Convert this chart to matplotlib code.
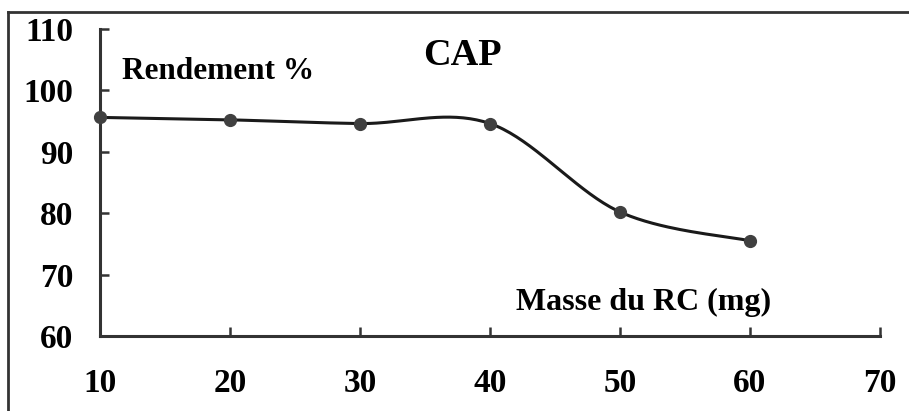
import matplotlib.pyplot as plt
import numpy as np
from matplotlib.lines import Line2D

plt.rcParams['font.family'] = ['Liberation Serif', 'DejaVu Serif']
plt.rcParams['font.weight'] = 'bold'

# Data
masse = [10, 20, 30, 40, 50, 60]
rendement = [95.6, 95.2, 94.6, 94.6, 80.2, 75.5]
x_ticks = [10, 20, 30, 40, 50, 60, 70]
y_ticks = [60, 70, 80, 90, 100, 110]


def smooth_curve(xs, ys, n=40):
    # Excel-like smoothing: Catmull-Rom through the points, as cubic Bezier pieces
    p = np.column_stack([xs, ys]).astype(float)
    p = np.vstack([p[0], p, p[-1]])
    out = []
    for i in range(1, len(p) - 2):
        p0, p1, p2, p3 = p[i - 1], p[i], p[i + 1], p[i + 2]
        c1 = p1 + (p2 - p0) / 6
        c2 = p2 - (p3 - p1) / 6
        t = np.linspace(0, 1, n)[:, None]
        seg = ((1 - t) ** 3) * p1 + 3 * ((1 - t) ** 2) * t * c1 \
            + 3 * (1 - t) * t ** 2 * c2 + t ** 3 * p2
        out.append(seg if i == 1 else seg[1:])
    out = np.vstack(out)
    return out[:, 0], out[:, 1]


fig = plt.figure(figsize=(9.09, 4.11), dpi=100)
ax = fig.add_axes([0.110, 0.1825, 0.858, 0.747])

sx, sy = smooth_curve(masse, rendement)
ax.plot(sx, sy, color='#1a1a1a', linewidth=2.2, zorder=3)
ax.plot(masse, rendement, linestyle='none', marker='o', markersize=8.5,
        color='#404040', zorder=4, clip_on=False)

ax.set_xlim(10, 70)
ax.set_ylim(60, 110)
ax.set_xticks(x_ticks)
ax.set_yticks(y_ticks)

for side in ['top', 'right']:
    ax.spines[side].set_visible(False)
for side in ['left', 'bottom']:
    ax.spines[side].set_linewidth(2.2)
    ax.spines[side].set_color('#333333')

ax.tick_params(axis='both', direction='in', length=6.5, width=1.8,
               color='#333333', labelsize=24)
ax.tick_params(axis='y', pad=19)
ax.tick_params(axis='x', pad=23)
for lab in ax.get_xticklabels() + ax.get_yticklabels():
    lab.set_fontweight('bold')

ax.text(11.7, 103.0, 'Rendement %', fontsize=22.5, fontweight='bold',
        ha='left', va='center')
ax.text(37.85, 105.6, 'CAP', fontsize=27.5, fontweight='bold',
        ha='center', va='center')
ax.text(51.8, 65.5, 'Masse du RC (mg)', fontsize=23, fontweight='bold',
        ha='center', va='center')

# outer frame (only left and top edges visible in the original crop)
fig.add_artist(Line2D([0.009, 1.0], [0.971, 0.971], transform=fig.transFigure,
                      color='#333333', linewidth=2))
fig.add_artist(Line2D([0.009, 0.009], [0.0, 0.971], transform=fig.transFigure,
                      color='#333333', linewidth=2))

fig.savefig('out.png', dpi=100)
